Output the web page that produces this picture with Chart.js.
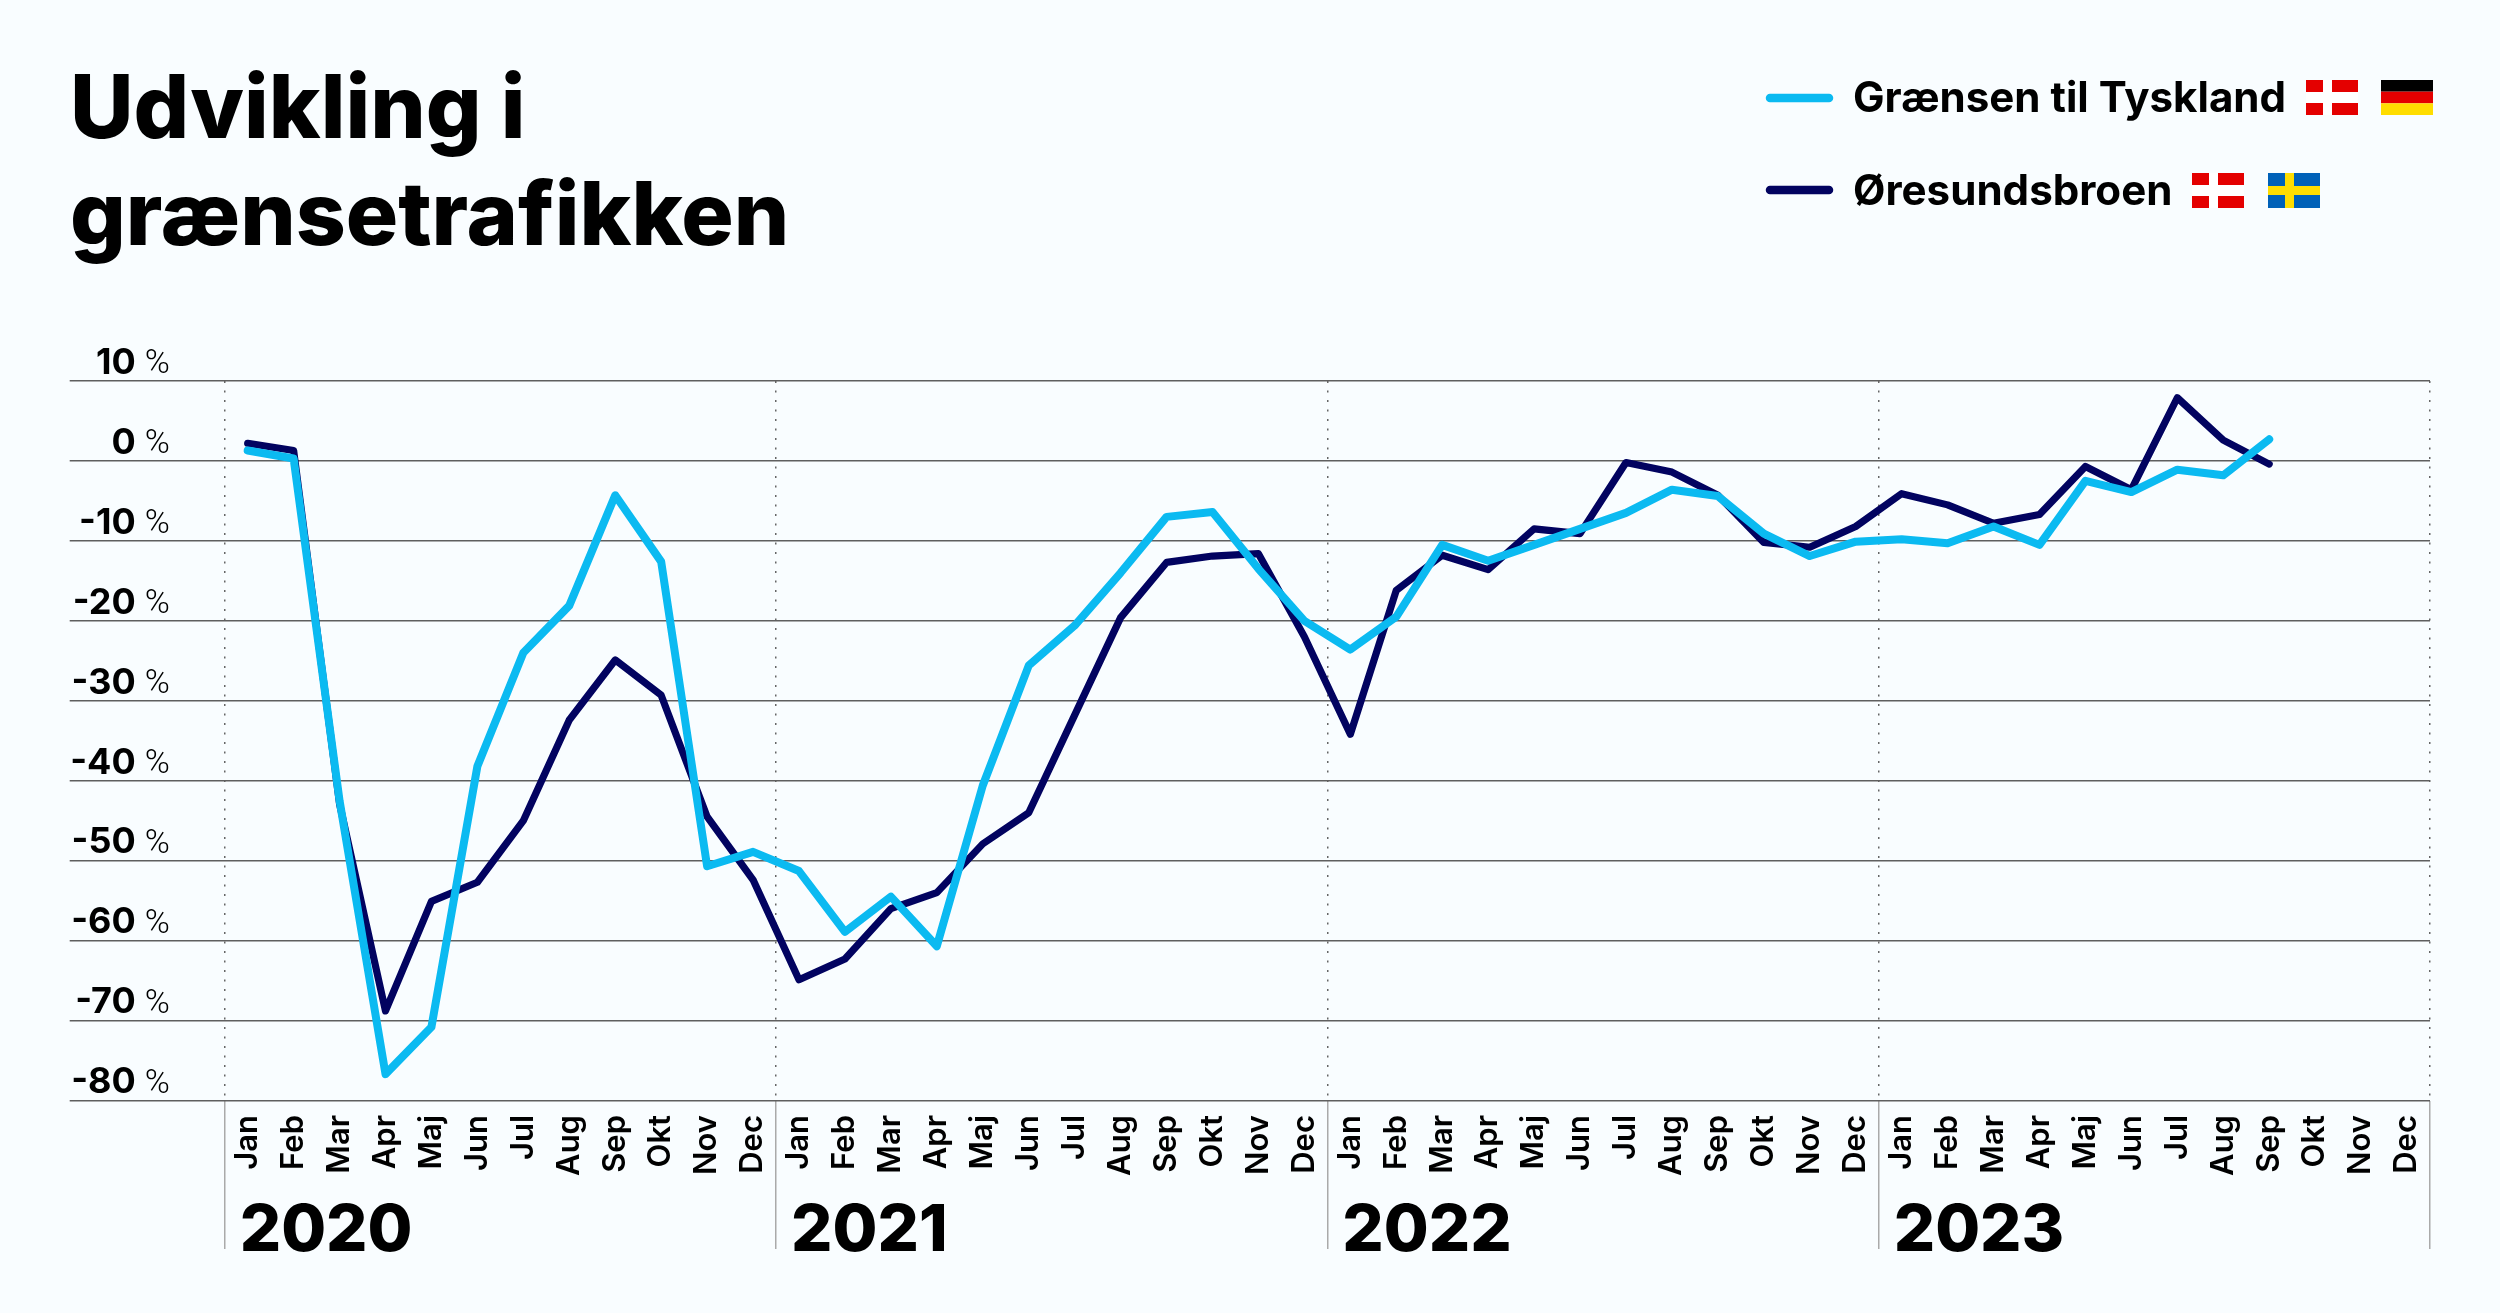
<!DOCTYPE html>
<html lang="da">
<head>
<meta charset="utf-8">
<title>Udvikling i grænsetrafikken</title>
<script src="https://cdn.jsdelivr.net/npm/chart.js@4"></script>
<style>
  html, body { margin: 0; padding: 0; background: #f9fdff; }
  canvas { display: block; }
</style>
</head>
<body>
<canvas id="chart" width="2500" height="1313"></canvas>
<script>
// data
const months = ['Jan','Feb','Mar','Apr','Maj','Jun','Jul','Aug','Sep','Okt','Nov','Dec'];
const years = ['2020','2021','2022','2023'];
const labels = years.flatMap(() => months);
const titleLines = ['Udvikling i', 'grænsetrafikken'];

const tyskland = [
  1.3, 0.3, -42.5, -76.7, -70.8, -38.2, -24, -18.1, -4.3, -12.6, -50.7, -48.9,
  -51.3, -58.9, -54.5, -60.7, -40.6, -25.6, -20.6, -14, -7, -6.4, -13.5, -20,
  -23.6, -19.5, -10.5, -12.5, -10.5, -8.5, -6.5, -3.6, -4.4, -9.1, -11.9, -10.1,
  -9.8, -10.3, -8.2, -10.5, -2.5, -3.9, -1.1, -1.8, 2.7
];
const oresund = [
  2.2, 1.3, -42.9, -68.8, -55.1, -52.7, -45, -32.4, -24.9, -29.3, -44.5, -52.4,
  -64.9, -62.3, -56, -54, -47.9, -44, -31.8, -19.6, -12.7, -11.9, -11.6, -22,
  -34.2, -16.2, -11.8, -13.6, -8.5, -9.1, -0.2, -1.4, -4.3, -10.2, -10.8, -8.2,
  -4.1, -5.5, -7.8, -6.7, -0.7, -3.6, 7.9, 2.6, -0.4
];

const FONT = 'Inter, "Liberation Sans", sans-serif';
const LIGHT = '#0bbaf1';
const DARK = '#020360';

function flagDK(ctx, x, y) {
  ctx.fillStyle = '#e40000';
  ctx.fillRect(x, y, 52, 35);
  ctx.fillStyle = '#ffffff';
  ctx.fillRect(x + 17, y, 9, 35);
  ctx.fillRect(x, y + 12, 52, 11);
}
function flagDE(ctx, x, y) {
  ['#000000', '#e40000', '#ffdd00'].forEach((c, i) => {
    ctx.fillStyle = c;
    ctx.fillRect(x, y + i * 35 / 3, 52, 35 / 3);
  });
}
function flagSE(ctx, x, y) {
  ctx.fillStyle = '#0061b8';
  ctx.fillRect(x, y, 52, 35);
  ctx.fillStyle = '#ffdd00';
  ctx.fillRect(x + 17, y, 9, 35);
  ctx.fillRect(x, y + 13, 52, 9);
}

// legend rows, the year names and the thin % signs are drawn here
const extras = {
  id: 'extras',
  afterDraw(chart) {
    const ctx = chart.ctx;
    const xs = chart.scales.x, ys = chart.scales.y;
    ctx.save();

    // thin percent sign next to the bold tick number
    ctx.fillStyle = '#000';
    ctx.font = '300 34px Roboto, ' + FONT;
    ctx.textAlign = 'right';
    ctx.textBaseline = 'alphabetic';
    ys.ticks.forEach(t => {
      ctx.fillText('%', 170, ys.getPixelForValue(t.value) - 8);
    });

    // year names under the months
    ctx.font = '800 65px ' + FONT;
    ctx.textAlign = 'left';
    years.forEach((y, i) => {
      const left = xs.getPixelForValue(i * 12) - xs.width / 96;
      ctx.fillText(y, left + 15, 1251);
    });

    // legend
    const rows = [
      { ds: chart.data.datasets[0], lineY: 98, base: 112, flags: [[flagDK, 2306, 80], [flagDE, 2381, 80]] },
      { ds: chart.data.datasets[1], lineY: 190, base: 205, flags: [[flagDK, 2192, 173], [flagSE, 2268, 173]] }
    ];
    ctx.font = '700 42.1px ' + FONT;
    rows.forEach(r => {
      ctx.strokeStyle = r.ds.borderColor;
      ctx.lineWidth = 8.5;
      ctx.lineCap = 'round';
      ctx.beginPath();
      ctx.moveTo(1770, r.lineY);
      ctx.lineTo(1829, r.lineY);
      ctx.stroke();
      ctx.fillStyle = '#000';
      ctx.fillText(r.ds.label, 1853, r.base);
      r.flags.forEach(f => f[0](ctx, f[1], f[2]));
    });
    ctx.restore();
  }
};

const isYearStart = c => c.index === undefined || c.index % 12 === 0;

new Chart(document.getElementById('chart'), {
  type: 'line',
  data: {
    labels: labels,
    datasets: [
      { label: 'Grænsen til Tyskland', data: tyskland, borderColor: LIGHT, borderWidth: 8 },
      { label: 'Øresundsbroen', data: oresund, borderColor: DARK, borderWidth: 7.2 }
    ]
  },
  options: {
    responsive: false,
    devicePixelRatio: 1,
    animation: false,
    layout: { padding: { left: 70, right: 70, top: 0, bottom: 0 } },
    elements: {
      point: { radius: 0 },
      line: { tension: 0, borderCapStyle: 'round', borderJoinStyle: 'round' }
    },
    plugins: {
      legend: { display: false },
      tooltip: { enabled: false },
      title: {
        display: true,
        text: titleLines,
        align: 'start',
        color: '#000',
        font: { family: FONT, size: 87.4, weight: 800, lineHeight: 1.224 },
        padding: { top: 58, bottom: 109 }
      }
    },
    scales: {
      x: {
        offset: true,
        border: { display: false, dash: [2, 7.5] },
        afterFit: s => { s.height = 212.5; },
        grid: {
          offset: true,
          drawTicks: true,
          tickLength: 148.5,
          lineWidth: 1.5,
          color: c => isYearStart(c) ? '#666666' : 'transparent',
          tickColor: c => isYearStart(c) ? '#aaaaaa' : 'transparent'
        },
        ticks: {
          autoSkip: false,
          minRotation: 90,
          maxRotation: 90,
          padding: -134,
          color: '#000',
          font: { family: FONT, size: 31, weight: 600 }
        }
      },
      y: {
        min: -80,
        max: 10,
        border: { display: false },
        afterFit: s => { s.width = 154.7; },
        grid: {
          tickLength: 155,
          lineWidth: 1.5,
          color: '#5f5f5f',
          tickColor: '#5f5f5f'
        },
        ticks: {
          stepSize: 10,
          padding: -66,
          labelOffset: -18,
          color: '#000',
          font: { family: FONT, size: 36, weight: 700 }
        }
      }
    }
  },
  plugins: [extras]
});
</script>
</body>
</html>
